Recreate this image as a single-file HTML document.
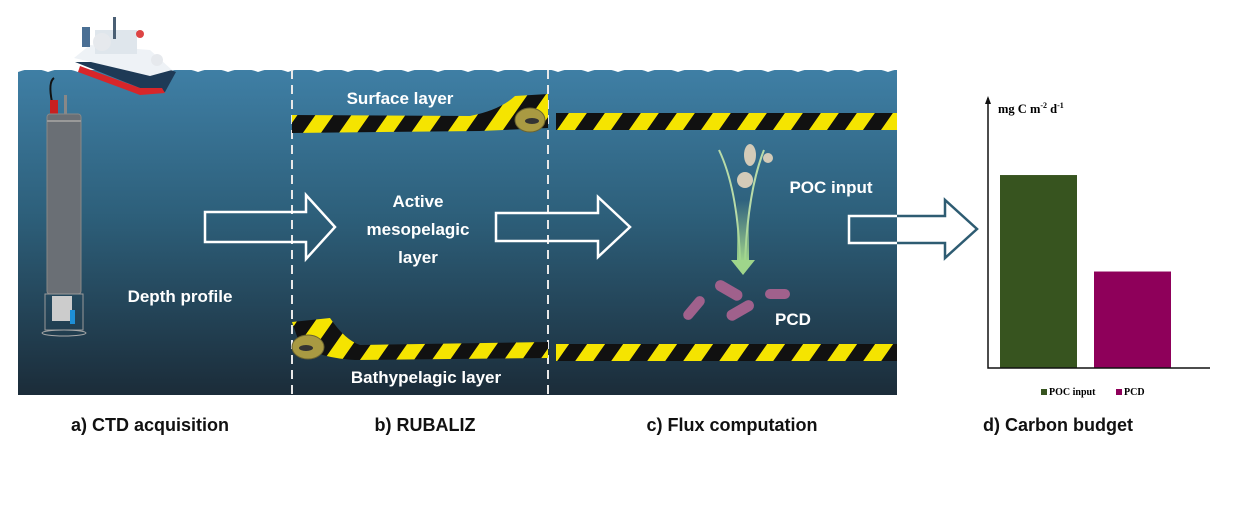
<!DOCTYPE html>
<html><head><meta charset="utf-8"><style>
body{margin:0;background:#fff;width:1236px;height:500px;overflow:hidden}
</style></head><body>
<svg width="1236" height="500" viewBox="0 0 1236 500" font-family="Liberation Sans, sans-serif">
<defs>
<linearGradient id="sea" x1="0" y1="0" x2="0" y2="1">
<stop offset="0" stop-color="#3f7fa5"/><stop offset="0.45" stop-color="#2d5f7a"/><stop offset="1" stop-color="#1b2c39"/>
</linearGradient>
<pattern id="tape" width="36" height="20" patternUnits="userSpaceOnUse" patternTransform="skewX(-35)">
<rect width="36" height="20" fill="#111"/><rect width="18" height="20" fill="#f5e400"/>
</pattern>
<linearGradient id="pocg" x1="0" y1="0" x2="0" y2="1"><stop offset="0" stop-color="#a8d59a" stop-opacity="0"/><stop offset="1" stop-color="#9fd58b"/></linearGradient>
<clipPath id="inSea"><rect x="18" y="70" width="879" height="325"/></clipPath>
</defs>
<g>
<rect x="18" y="70" width="879" height="325" fill="url(#sea)"/>
<path d="M18 72 q15 -6 30 0 q15 -6 30 0 q15 -6 30 0 q15 -6 30 0 q15 -6 30 0 q15 -6 30 0 q15 -6 30 0 q15 -6 30 0 q15 -6 30 0 q15 -6 30 0 q15 -6 30 0 q15 -6 30 0 q15 -6 30 0 q15 -6 30 0 q15 -6 30 0 q15 -6 30 0 q15 -6 30 0 q15 -6 30 0 q15 -6 30 0 q15 -6 30 0 q15 -6 30 0 q15 -6 30 0 q15 -6 30 0 q15 -6 30 0 q15 -6 30 0 q15 -6 30 0 q15 -6 30 0 q15 -6 30 0 q15 -6 30 0 q15 -6 30 0 L897 64 L18 64Z" fill="#fff"/>
</g>
<g>
<polygon points="75,62 140,88 165,92 176,72 150,62" fill="#1e3a56"/>
<polygon points="78,72 140,95 165,93 162,88 140,88 80,66" fill="#d7262a"/>
<polygon points="74,58 90,45 150,50 172,70 150,76" fill="#eef2f6"/>
<rect x="95" y="30" width="42" height="24" fill="#dfe6ec"/>
<circle cx="102" cy="42" r="9" fill="#e6e9ed"/>
<circle cx="157" cy="60" r="6" fill="#e6e9ed"/>
<rect x="113" y="17" width="3" height="22" fill="#4a5f74"/>
<rect x="82" y="27" width="8" height="20" fill="#4a6f94"/>
<circle cx="140" cy="34" r="4" fill="#d44"/>
</g>
<g>
<path d="M52 102 q-4 -20 2 -24" stroke="#111" stroke-width="2" fill="none"/>
<rect x="50" y="100" width="8" height="15" fill="#c82020"/>
<rect x="64" y="95" width="3" height="20" fill="#888"/>
<rect x="47" y="114" width="34" height="180" rx="3" fill="#6a6f75" stroke="#888"/>
<rect x="47" y="120" width="34" height="2" fill="#999"/>
<rect x="45" y="294" width="38" height="36" fill="none" stroke="#999"/>
<rect x="52" y="296" width="20" height="25" fill="#ccc"/>
<rect x="70" y="310" width="5" height="14" fill="#1e8fd6"/>
<ellipse cx="64" cy="333" rx="22" ry="3" fill="none" stroke="#aaa"/>
</g>
<g stroke="#e8e8e8" stroke-width="2" stroke-dasharray="9,6">
<line x1="292" y1="70" x2="292" y2="395"/><line x1="548" y1="70" x2="548" y2="395"/>
</g>
<g>
<path d="M292 115 L470 116 Q500 110 515 96 L548 94 L548 128 L480 131 L292 133Z" fill="url(#tape)"/>
<ellipse cx="530" cy="120" rx="15" ry="12" fill="#a99a42" stroke="#6b6330"/>
<ellipse cx="532" cy="121" rx="7" ry="3" fill="#333"/>
<rect x="556" y="113" width="341" height="17" fill="url(#tape)"/>
</g>
<g>
<path d="M292 322 L330 318 Q345 340 360 345 L548 342 L548 358 L355 360 Q320 358 300 345Z" fill="url(#tape)"/>
<ellipse cx="308" cy="347" rx="16" ry="12" fill="#a99a42" stroke="#6b6330"/>
<ellipse cx="306" cy="348" rx="7" ry="3" fill="#333"/>
<rect x="556" y="344" width="341" height="17" fill="url(#tape)"/>
</g>
<g>
<path d="M719 150 Q738 190 740 262" stroke="#b8dba8" stroke-width="2" fill="none"/>
<path d="M764 150 Q748 190 745 262" stroke="#b8dba8" stroke-width="2" fill="none"/>
<rect x="737" y="200" width="12" height="62" fill="url(#pocg)"/>
<polygon points="731,260 755,260 743,275" fill="#9fd58b"/>
<ellipse cx="750" cy="155" rx="6" ry="11" fill="#d4cbb8"/><ellipse cx="768" cy="158" rx="5" ry="5" fill="#d4cbb8"/><ellipse cx="745" cy="180" rx="8" ry="8" fill="#d4cbb8"/>
</g>
<g fill="#a0618c">
<rect x="714" y="285" width="30" height="11" rx="5.5" transform="rotate(30 729 290)"/>
<rect x="765" y="289" width="25" height="10" rx="5" />
<rect x="725" y="305" width="30" height="11" rx="5.5" transform="rotate(-30 740 310)"/>
<rect x="680" y="303" width="28" height="10" rx="5" transform="rotate(-50 694 308)"/>
</g>
<g stroke-width="2.5" fill="none">
<polygon points="205,212 306,212 306,195 335,227 306,259 306,242 205,242" stroke="#fff"/>
<polygon points="496,213 598,213 598,197 630,227 598,257 598,241 496,241" stroke="#fff"/>
<polygon points="849,216 945,216 945,200 977,229 945,258 945,243 849,243" stroke="#2e5c72"/>
<polygon points="849,216 945,216 945,200 977,229 945,258 945,243 849,243" stroke="#fff" clip-path="url(#inSea)"/>
</g>
<g fill="#fff" font-weight="bold" font-size="17" text-anchor="middle">
<text x="180" y="302">Depth profile</text>
<text x="400" y="104">Surface layer</text>
<text x="418" y="207">Active</text>
<text x="418" y="235">mesopelagic</text>
<text x="418" y="263">layer</text>
<text x="426" y="383">Bathypelagic layer</text>
<text x="831" y="193">POC input</text>
<text x="793" y="325">PCD</text>
</g>
<g font-weight="bold" font-size="18" text-anchor="middle" fill="#111">
<text x="150" y="431">a) CTD acquisition</text>
<text x="425" y="431">b) RUBALIZ</text>
<text x="732" y="431">c) Flux computation</text>
<text x="1058" y="431">d) Carbon budget</text>
</g>
<g id="chart"></g>
</svg>
<script>
const categories=["POC input","PCD"];
const values=[72,36];
const colors=["#37541f","#8e005a"];
const NS="http://www.w3.org/2000/svg";
const g=document.getElementById('chart');
const x0=988,y0=368,yTop=100,yMax=100;
function yScale(v){return y0-(v/yMax)*(y0-yTop);}
function xBand(i){return 1000+i*94;}
function mk(t,a){const e=document.createElementNS(NS,t);for(const k in a)e.setAttribute(k,a[k]);g.appendChild(e);return e;}
categories.forEach((c,i)=>{
 const r=mk('rect',{x:xBand(i),y:yScale(values[i]),width:77,height:y0-yScale(values[i]),fill:colors[i]});
 
 
 const lx=1049+i*75;
 const s=mk('rect',{x:lx-8,y:389,width:6,height:6,fill:colors[i]});
 
 
 const t=mk('text',{x:lx,y:395,'font-size':10,'font-weight':'bold','font-family':'Liberation Serif, serif'});
 t.textContent=c;
 
 
});
const ax=mk('path',{d:`M${x0} ${yTop-2} L${x0} ${y0} L1210 ${y0}`,stroke:'#111','stroke-width':1.5,fill:'none'});


const ar=mk('polygon',{points:`${x0-3},${yTop+4} ${x0+3},${yTop+4} ${x0},${yTop-4}`,fill:'#111'});


const yt=mk('text',{x:998,y:113,'font-size':12.5,'font-weight':'bold','font-family':'Liberation Serif, serif'});
yt.innerHTML='mg C m<tspan dy="-5" font-size="8">-2</tspan><tspan dy="5"> d</tspan><tspan dy="-5" font-size="8">-1</tspan>';


</script>
</body></html>
